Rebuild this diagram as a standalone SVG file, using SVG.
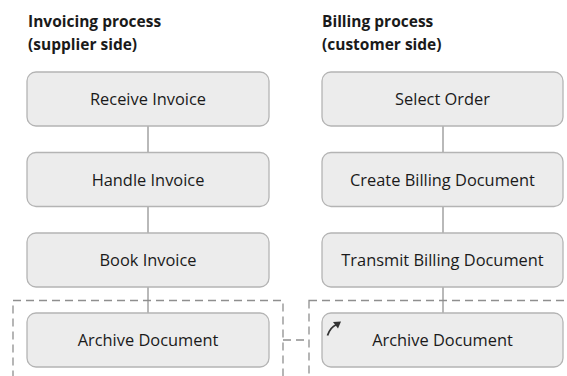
<svg xmlns="http://www.w3.org/2000/svg" width="567" height="376" viewBox="0 0 567 376">
<style>
.box{fill:#ececec;stroke:#b4b4b4;stroke-width:1.3}
.lbl{font-family:"Open Sans","Liberation Sans",sans-serif;font-size:16.4px;fill:#1a1a1a;text-anchor:middle}
.ttl{font-family:"Open Sans","Liberation Sans",sans-serif;font-size:15.5px;font-weight:bold;fill:#1a1a1a}
.conn{stroke:#8a8a8a;stroke-width:1.2;fill:none}
.dash{stroke:#8f8f8f;stroke-width:1.3;fill:none;stroke-dasharray:8 5}
</style>
<rect width="567" height="376" fill="#ffffff"/>
<g id="titles">
<text class="ttl" x="28" y="27">Invoicing process</text>
<text class="ttl" x="28" y="50">(supplier side)</text>
<text class="ttl" x="322" y="27">Billing process</text>
<text class="ttl" x="322" y="50">(customer side)</text>
</g>
<g id="groups">
<rect class="dash" x="13" y="300.5" width="270" height="120"/>
<rect class="dash" x="309" y="300.5" width="300" height="120"/>
</g>
<g id="connectors">
<line class="conn" x1="148" y1="126" x2="148" y2="152.5"/>
<line class="conn" x1="148" y1="206.5" x2="148" y2="233"/>
<line class="conn" x1="148" y1="287" x2="148" y2="313"/>
<line class="conn" x1="443" y1="126" x2="443" y2="152.5"/>
<line class="conn" x1="443" y1="206.5" x2="443" y2="233"/>
<line class="conn" x1="443" y1="287" x2="443" y2="313"/>
<line class="dash" x1="283" y1="340" x2="309" y2="340"/>
</g>
<g id="n1"><rect class="box" x="27" y="72" width="242" height="54" rx="9"/><text class="lbl" x="148" y="105">Receive Invoice</text></g>
<g id="n2"><rect class="box" x="27" y="152.5" width="242" height="54" rx="9"/><text class="lbl" x="148" y="185.5">Handle Invoice</text></g>
<g id="n3"><rect class="box" x="27" y="233" width="242" height="54" rx="9"/><text class="lbl" x="148" y="266">Book Invoice</text></g>
<g id="n4"><rect class="box" x="27" y="313" width="242" height="54" rx="9"/><text class="lbl" x="148" y="346">Archive Document</text></g>
<g id="m1"><rect class="box" x="322" y="72" width="241" height="54" rx="9"/><text class="lbl" x="442.5" y="105">Select Order</text></g>
<g id="m2"><rect class="box" x="322" y="152.5" width="241" height="54" rx="9"/><text class="lbl" x="442.5" y="185.5">Create Billing Document</text></g>
<g id="m3"><rect class="box" x="322" y="233" width="241" height="54" rx="9"/><text class="lbl" x="442.5" y="266">Transmit Billing Document</text></g>
<g id="m4"><rect class="box" x="322" y="313" width="241" height="54" rx="9"/><text class="lbl" x="442.5" y="346">Archive Document</text>
<path d="M327.5 335.5 Q330 327.5 336.5 324.5" stroke="#333" stroke-width="1.8" fill="none"/>
<path d="M341 321.5 L333 322 L338 328.5 Z" fill="#333"/>
</g>
</svg>
